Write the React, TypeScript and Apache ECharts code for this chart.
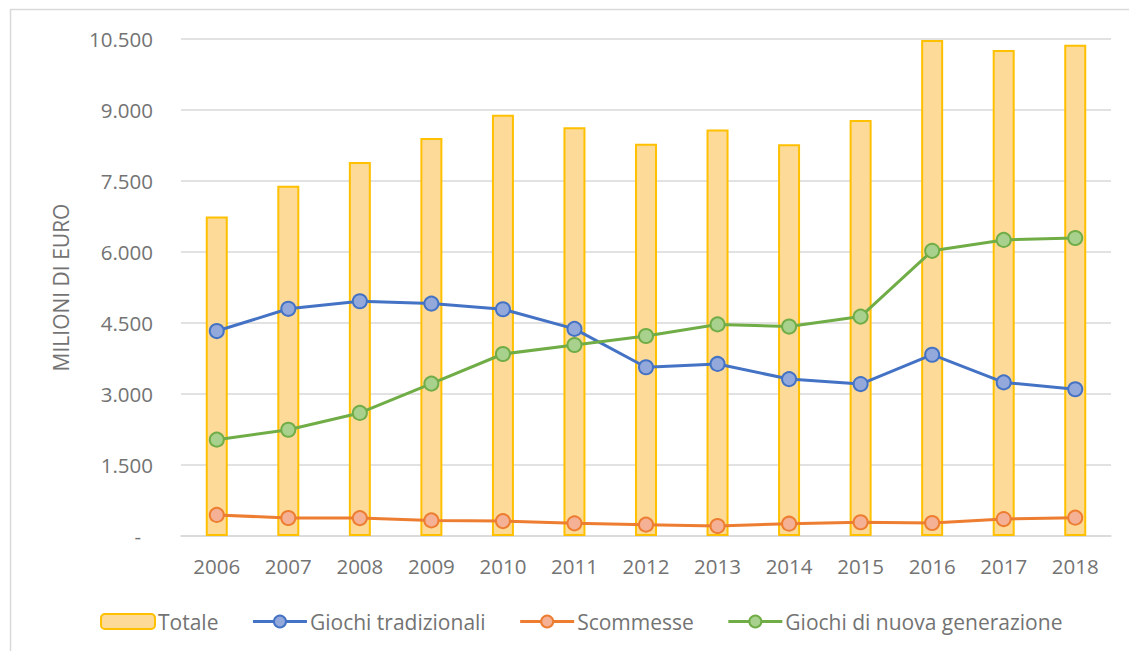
import React, { useEffect, useRef } from 'react';
import * as echarts from 'echarts';

const years = ['2006', '2007', '2008', '2009', '2010', '2011', '2012', '2013', '2014', '2015', '2016', '2017', '2018'];
const totale = [6750, 7400, 7900, 8410, 8900, 8635, 8285, 8590, 8275, 8790, 10480, 10270, 10380];
const giochiTradizionali = [4330, 4800, 4960, 4910, 4790, 4375, 3565, 3635, 3315, 3210, 3830, 3245, 3100];
const scommesse = [445, 380, 378, 330, 315, 268, 240, 212, 260, 290, 275, 358, 387];
const giochiNuovaGenerazione = [2035, 2245, 2600, 3220, 3845, 4035, 4225, 4470, 4425, 4635, 6025, 6255, 6295];

const yMax = 10500;
const yInterval = 1500;
const yAxisName = 'MILIONI DI EURO';

const FONT = '"Open Sans", sans-serif';
const TEXT = '#737373';

function fmt(v: number): string {
  if (v === 0) return '{d|-}';
  const s = String(Math.round(v));
  return s.replace(/\B(?=(\d{3})+(?!\d))/g, '.');
}

export default function App() {
  const ref = useRef<HTMLDivElement>(null);
  useEffect(() => {
    document.body.style.margin = '0';
    const chart = echarts.init(ref.current!, null, { renderer: 'svg' });
    const lineSeries = (name: string, data: number[], line: string, fill: string) => ({
      name,
      type: 'line',
      data,
      z: 3,
      symbol: 'circle',
      symbolSize: 14,
      lineStyle: { color: line, width: 3 },
      itemStyle: { color: fill, borderColor: line, borderWidth: 2 },
    });
    chart.setOption({
      animation: false,
      textStyle: { fontFamily: FONT },
      graphic: [
        {
          type: 'rect',
          shape: { x: 10.5, y: 9.5, width: 1200, height: 700 },
          style: { fill: 'none', stroke: '#D9D9D9', lineWidth: 1.5 },
          silent: true,
        },
      ],
      grid: { left: 181, right: 18, top: 39, bottom: 115 },
      legend: {
        left: 100,
        top: 611,
        padding: 0,
        itemWidth: 54,
        itemHeight: 15,
        itemGap: 33,
        lineStyle: { width: 3 },
        textStyle: { fontFamily: FONT, fontSize: 21, color: TEXT, padding: [0, 0, 0, -2] },
        data: ['Totale', 'Giochi tradizionali', 'Scommesse', 'Giochi di nuova generazione'],
      },
      xAxis: {
        type: 'category',
        data: years,
        axisLine: { lineStyle: { color: '#D9D9D9', width: 1.5 } },
        axisTick: { show: false },
        axisLabel: { color: TEXT, fontFamily: FONT, fontSize: 20.5, margin: 19 },
      },
      yAxis: {
        type: 'value',
        min: 0,
        max: yMax,
        interval: yInterval,
        name: yAxisName,
        nameLocation: 'middle',
        nameGap: 110,
        nameTextStyle: { color: TEXT, fontFamily: FONT, fontSize: 21 },
        axisLine: { show: false },
        axisTick: { show: false },
        splitLine: { lineStyle: { color: '#D9D9D9', width: 1.5 } },
        axisLabel: {
          color: TEXT,
          fontFamily: FONT,
          fontSize: 20.5,
          margin: 28,
          formatter: fmt,
          rich: { d: { color: TEXT, fontFamily: FONT, fontSize: 20.5, padding: [0, 12, 0, 0] } },
        },
      },
      series: [
        {
          name: 'Totale',
          type: 'bar',
          data: totale,
          barWidth: 22,
          z: 2,
          itemStyle: { color: '#FDDA97', borderColor: '#FFC000', borderWidth: 2 },
        },
        lineSeries('Giochi tradizionali', giochiTradizionali, '#4472C4', '#93A9DC'),
        lineSeries('Scommesse', scommesse, '#ED7D31', '#F4B195'),
        lineSeries('Giochi di nuova generazione', giochiNuovaGenerazione, '#70AD47', '#A8D18D'),
      ],
    });
    return () => chart.dispose();
  }, []);
  return <div ref={ref} style={{ width: 1129, height: 651 }} />;
}
